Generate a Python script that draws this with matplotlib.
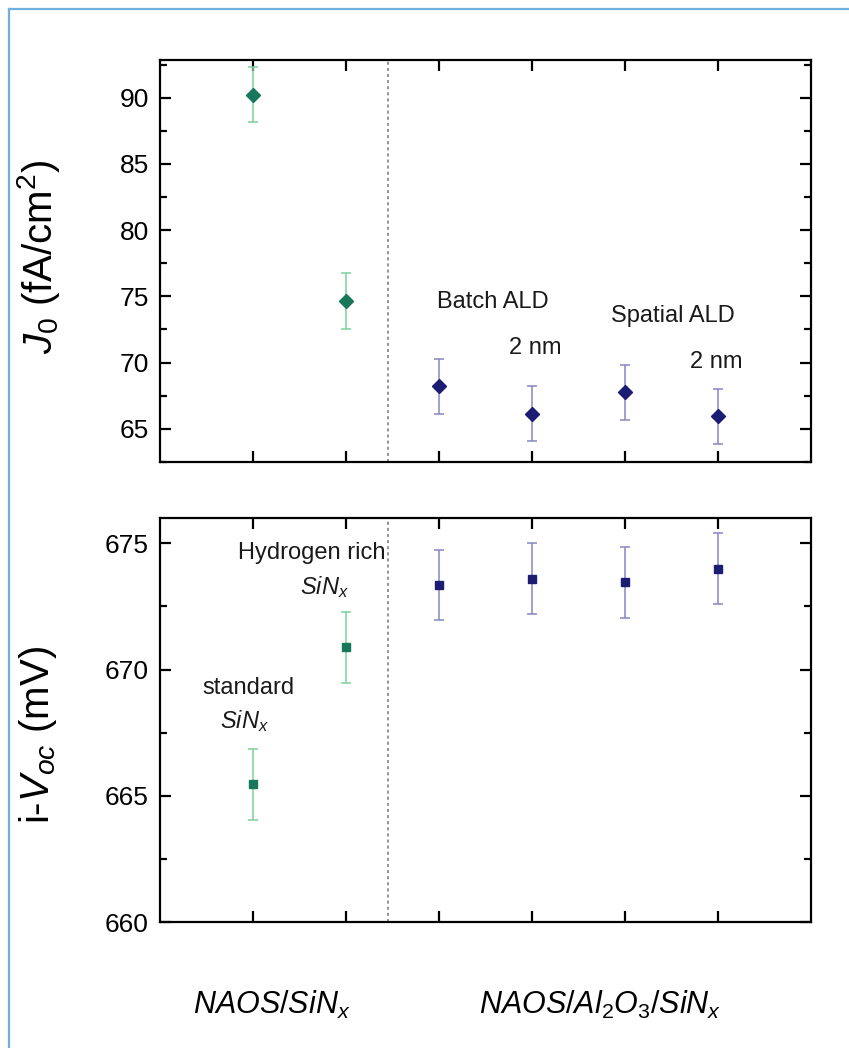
import matplotlib
matplotlib.use("Agg")
import matplotlib.pyplot as plt
from matplotlib.lines import Line2D
from matplotlib.ticker import MultipleLocator, FixedLocator

# ---- data -------------------------------------------------------------
positions = [1, 2, 3, 4, 5, 6]
j0_values = [90.23, 74.65, 68.20, 66.15, 67.75, 65.95]
j0_errors = [2.07, 2.10, 2.05, 2.10, 2.07, 2.07]
voc_values = [665.45, 670.88, 673.35, 673.60, 673.45, 674.00]
voc_errors = [1.40, 1.40, 1.40, 1.40, 1.40, 1.40]
n_sinx = 2            # first samples: NAOS/SiNx stack, rest: NAOS/Al2O3/SiNx
group_split = 2.45    # dashed separator between the two stacks

j0_ticks = [65, 70, 75, 80, 85, 90]
voc_ticks = [660, 665, 670, 675]

# ---- style ------------------------------------------------------------
plt.rcParams["font.family"] = ["Liberation Sans", "DejaVu Sans"]
plt.rcParams["mathtext.fontset"] = "custom"
plt.rcParams["mathtext.rm"] = "Liberation Sans"
plt.rcParams["mathtext.it"] = "Liberation Sans:italic"
plt.rcParams["mathtext.bf"] = "Liberation Sans:bold"

green_mk, green_eb = "#17775a", "#7fcf9c"
blue_mk, blue_eb = "#1c1c72", "#8686c2"

fig = plt.figure(figsize=(8.49, 10.48), dpi=100)
ax_top = fig.add_axes([0.1885, 0.5592, 0.7667, 0.3836])
ax_bot = fig.add_axes([0.1885, 0.1202, 0.7667, 0.3855])


def draw_group(ax, vals, errs, marker, ms):
    xs_a, xs_b = positions[:n_sinx], positions[n_sinx:]
    ax.errorbar(xs_a, vals[:n_sinx], yerr=errs[:n_sinx], fmt=marker, ms=ms,
                color=green_mk, ecolor=green_eb, elinewidth=1.1, capsize=3.5,
                capthick=1.1, zorder=3)
    ax.errorbar(xs_b, vals[n_sinx:], yerr=errs[n_sinx:], fmt=marker, ms=ms,
                color=blue_mk, ecolor=blue_eb, elinewidth=1.1, capsize=3.5,
                capthick=1.1, zorder=3)
    ax.axvline(group_split, color="#777777", lw=1.1, ls=(0, (2.0, 2.0)),
               zorder=1)


def style_axes(ax, ticks, lo, hi):
    ax.set_xlim(0, 7)
    ax.set_ylim(lo, hi)
    ax.xaxis.set_major_locator(FixedLocator(positions))
    ax.yaxis.set_major_locator(FixedLocator(ticks))
    ax.yaxis.set_minor_locator(MultipleLocator(2.5))
    ax.tick_params(which="both", direction="in", top=True, right=True,
                   width=1.6, labelsize=19, pad=8)
    ax.tick_params(which="major", length=8)
    ax.tick_params(which="minor", length=5)
    ax.tick_params(axis="x", labelbottom=False)
    for s in ax.spines.values():
        s.set_linewidth(1.6)


draw_group(ax_top, j0_values, j0_errors, "D", 7)
style_axes(ax_top, j0_ticks, 62.5, 92.85)

draw_group(ax_bot, voc_values, voc_errors, "s", 6)
style_axes(ax_bot, voc_ticks, 660, 676)

# ---- annotations --------------------------------------------------------
ann = dict(fontsize=17, ha="center", va="center", color="#1a1a1a")
ax_top.text(3.58, 74.57, "Batch ALD", **ann)
ax_top.text(4.03, 71.10, "2 nm", **ann)
ax_top.text(5.52, 73.50, "Spatial ALD", **ann)
ax_top.text(5.98, 70.04, "2 nm", **ann)

ax_bot.text(1.63, 674.62, "Hydrogen rich", **ann)
ax_bot.text(1.77, 673.25, r"$SiN_x$", **ann)
ax_bot.text(0.95, 669.28, "standard", **ann)
ax_bot.text(0.91, 667.95, r"$SiN_x$", **ann)

# ---- axis titles and group labels ---------------------------------------
fig.text(0.045, 0.755, r"$J_{\rm 0}$ (fA/cm$^{\rm 2}$)", rotation=90,
         ha="center", va="center", fontsize=29)
fig.text(0.045, 0.299, r"i-$V_{oc}$ (mV)", rotation=90,
         ha="center", va="center", fontsize=29)

fig.text(0.32, 0.041, r"$NAOS/SiN_x$", ha="center", va="center", fontsize=22)
fig.text(0.707, 0.041, r"$NAOS/Al_\mathit{2}O_\mathit{3}/SiN_x$",
         ha="center", va="center", fontsize=22)

# ---- light blue frame ---------------------------------------------------
frame_c = "#6fb0df"
fig.add_artist(Line2D([9 / 849, 9 / 849], [0, 1 - 9 / 1048],
                      transform=fig.transFigure, color=frame_c, lw=1.6))
fig.add_artist(Line2D([9 / 849, 1], [1 - 9 / 1048, 1 - 9 / 1048],
                      transform=fig.transFigure, color=frame_c, lw=1.6))

fig.savefig("out.png", dpi=100)
